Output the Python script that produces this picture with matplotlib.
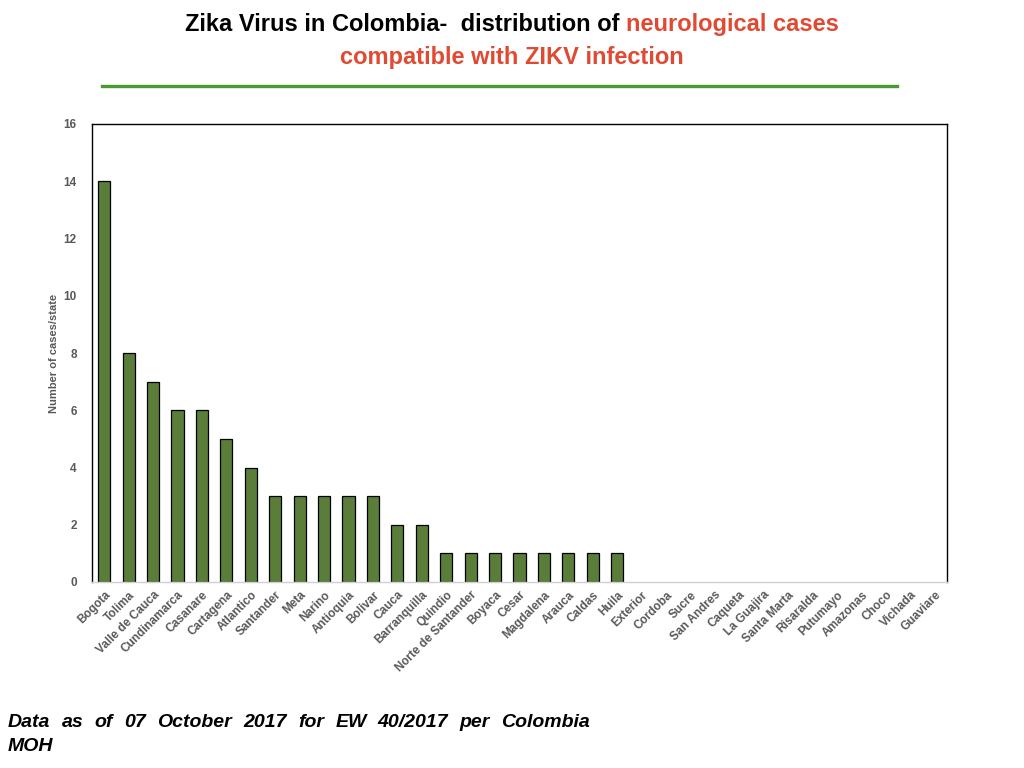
import matplotlib.pyplot as plt
from matplotlib.lines import Line2D

plt.rcParams['font.family'] = ['Liberation Sans', 'DejaVu Sans']

# DATA
states = [
    "Bogota", "Tolima", "Valle de Cauca", "Cundinamarca", "Casanare",
    "Cartagena", "Atlantico", "Santander", "Meta", "Narino", "Antioquia",
    "Bolivar", "Cauca", "Barranquilla", "Quindio", "Norte de Santander",
    "Boyaca", "Cesar", "Magdalena", "Arauca", "Caldas", "Huila", "Exterior",
    "Cordoba", "Sucre", "San Andres", "Caqueta", "La Guajira", "Santa Marta",
    "Risaralda", "Putumayo", "Amazonas", "Choco", "Vichada", "Guaviare",
]
cases = [14, 8, 7, 6, 6, 5, 4, 3, 3, 3, 3, 3, 2, 2, 1, 1, 1, 1, 1, 1, 1, 1,
         0, 0, 0, 0, 0, 0, 0, 0, 0, 0, 0, 0, 0]
y_ticks = [0, 2, 4, 6, 8, 10, 12, 14, 16]

title_black = "Zika Virus in Colombia-  distribution of "
title_red_1 = "neurological cases"
title_red_2 = "compatible with ZIKV infection"
footer_line1 = "Data as of 07 October 2017 for EW 40/2017 per Colombia"
footer_line2 = "MOH"

BAR_COLOR = "#5a7e3a"
RED = "#e04a32"
GRAY = "#595959"

W, H = 1024, 768
fig = plt.figure(figsize=(W / 100, H / 100), dpi=100)
ax = fig.add_axes([92 / W, 1 - 582 / H, (947 - 92) / W, (582 - 124) / H])

x = range(len(states))
bars = ax.bar(x, cases, width=0.5, color=BAR_COLOR, edgecolor="black",
              linewidth=0.9)
for b, v in zip(bars, cases):
    if v == 0:
        b.set_linewidth(0)
ax.set_xlim(-0.5, len(states) - 0.5)
ax.set_ylim(0, 16)
ax.set_yticks(y_ticks)
ax.set_yticklabels([str(t) for t in y_ticks], fontsize=8.5, fontweight="bold",
                   color=GRAY)
ax.set_xticks(list(x))
ax.set_xticklabels(states, rotation=45, ha="right", rotation_mode="anchor",
                   fontsize=8.5, fontweight="bold", color=GRAY)
ax.tick_params(axis="both", length=0)
ax.tick_params(axis="y", pad=11)
ax.tick_params(axis="x", pad=5)
ax.set_ylabel("Number of cases/state", fontsize=8, fontweight="bold",
              color=GRAY, labelpad=3)
for side in ("left", "top", "right"):
    ax.spines[side].set_color("black")
    ax.spines[side].set_linewidth(1.0)
ax.spines["bottom"].set_color("#d0d0d0")
ax.spines["bottom"].set_linewidth(1.0)

# title, two colours on the first line
fig.canvas.draw()
renderer = fig.canvas.get_renderer()
title_kw = dict(fontsize=17, fontweight="bold", va="baseline")
t1 = fig.text(0, 0, title_black, color="black", **title_kw)
t2 = fig.text(0, 0, title_red_1, color=RED, **title_kw)
w1 = t1.get_window_extent(renderer).width
w2 = t2.get_window_extent(renderer).width
x0 = (W - (w1 + w2)) / 2
base1 = 1 - 31 / H
t1.set_position((x0 / W, base1))
t2.set_position(((x0 + w1) / W, base1))
fig.text(0.5, 1 - 64 / H, title_red_2, color=RED, ha="center", **title_kw)

fig.add_artist(Line2D([102 / W, 897 / W], [1 - 86 / H, 1 - 86 / H],
                      color="#4a9a34", linewidth=2.4))

# footer, justified first line
foot_kw = dict(fontsize=14, fontweight="bold", fontstyle="italic",
               color="black", va="baseline")
words = footer_line1.split()
word_txt = [fig.text(0, 0, w_, **foot_kw) for w_ in words]
widths = [t.get_window_extent(renderer).width for t in word_txt]
left, right = 8, 590
gap = (right - left - sum(widths)) / (len(words) - 1)
pos = left
for t, w_ in zip(word_txt, widths):
    t.set_position((pos / W, 1 - 727 / H))
    pos += w_ + gap
fig.text(left / W, 1 - 751 / H, footer_line2, **foot_kw)

fig.savefig("out.png", dpi=100)
